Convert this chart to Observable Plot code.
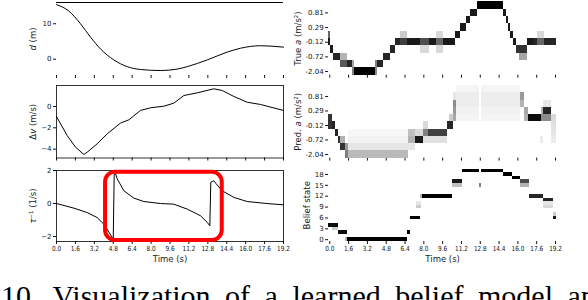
<!DOCTYPE html>
<html><head><meta charset="utf-8">
<script src="https://cdn.jsdelivr.net/npm/d3@7"></script>
<script src="https://cdn.jsdelivr.net/npm/@observablehq/plot@0.6"></script>
<style>
html,body{margin:0;padding:0;background:#fff;}
#root{position:relative;width:588px;height:300px;overflow:hidden;background:#fff;}
.cap{position:absolute;left:1px;top:279px;font-family:"Liberation Serif",serif;font-size:30px;word-spacing:7px;white-space:nowrap;color:#000;}
</style></head><body><div id="root"></div>
<script>
// ---------- data ----------
const timeTickLabels = ["0.0","1.6","3.2","4.8","6.4","8.0","9.6","11.2","12.8","14.4","16.0","17.6","19.2"];

const dTime = [0, 1.04, 2.03, 2.88, 3.72, 4.85, 5.98, 7.1, 8.8, 10.2, 11.06, 12.75, 14.44, 15.57, 17.26, 19.2];
const dVal  = [15.4, 13.6, 10.0, 6.2, 2.9, -0.2, -2.1, -2.9, -3.2, -2.8, -2.1, -0.2, 2.0, 3.1, 3.8, 3.4];

const dvTime = [0, 0.9, 1.6, 2.31, 2.6, 3.44, 4.29, 5.41, 6.12, 7.1, 7.95, 9.08, 9.92, 10.77, 11.9, 13.3, 14.02, 15.0, 16.13, 17.26, 19.2];
const dvVal  = [-0.94, -2.72, -3.8, -4.5, -4.28, -3.5, -2.56, -1.56, -1.25, -0.37, -0.12, 0.03, 0.31, 1.03, 1.28, 1.66, 1.5, 0.94, 0.4, 0.19, -0.37];

const tauTime = [0, 1.47, 2.6, 3.44, 4.0, 4.23, 4.71, 4.8, 4.88, 5.0, 5.13, 5.7, 6.54, 7.39, 8.8, 9.92, 11.06, 12.18, 12.75, 12.97, 13.05, 13.3, 13.5, 14.02, 15.0, 16.13, 17.8, 19.2];
const tauVal  = [0, -0.28, -0.55, -0.85, -1.25, -1.5, -2.05, -2.1, 1.75, 1.8, 1.5, 0.77, 0.33, 0.12, 0, -0.04, -0.34, -0.74, -1.14, -1.35, 1.29, 1.38, 1.2, 0.77, 0.37, 0.12, 0, -0.08];

const highlightBox = [[4.15, 14.02, -2.24, 1.9]]; // t0, t1, v0, v1

const aTickBins = [0, 2, 4, 6, 8];
const aTickLabels = ["-2.04", "-0.72", "-0.12", "0.29", "0.81"];
const beliefTicks = [0, 3, 6, 9, 12, 15, 18];

// cells: [tStart, tEnd, bin, probability]
const trueACells = [
 [-0.1,0.1,4,0.9],[-0.1,0.1,5,0.6],[0.1,0.3,3,0.9],[0.3,0.9,2,0.85],
 [0.9,1.5,1,0.65],[0.9,1.5,2,0.3],[1.5,1.9,1,0.85],[1.9,2.1,0,0.5],[1.9,2.1,1,0.35],
 [2.1,3.9,0,1],[3.9,4.1,0,0.45],[3.9,4.1,1,0.5],[4.1,4.6,1,0.85],[4.6,5.2,2,0.85],
 [5.2,5.6,3,0.85],[5.6,6.0,4,0.85],[6.0,6.6,4,0.75],[6.0,6.6,5,0.2],[6.6,7.7,4,0.9],
 [7.7,8.5,4,0.7],[7.7,8.5,3,0.15],[8.5,9.1,4,0.9],[9.1,9.7,4,0.6],[9.1,9.7,5,0.15],[9.1,9.7,3,0.15],
 [9.7,10.7,4,0.9],[10.7,11.1,5,0.9],[11.1,11.6,6,0.9],[11.6,12.0,7,0.9],[12.0,12.6,8,0.9],
 [12.6,14.8,9,1],[14.8,15.0,8,0.9],[15.0,15.2,7,0.9],[15.2,15.4,6,0.9],[15.4,15.6,5,0.9],
 [15.6,15.9,4,0.9],[15.9,16.8,3,0.8],[16.1,16.8,2,0.35],[16.8,17.3,4,0.9],[17.3,17.7,4,0.85],
 [17.7,18.3,4,0.6],[17.7,18.3,5,0.15],[18.3,19.3,4,0.85]
];
const predACells = [
 [-0.1,0.2,5,0.8],[-0.1,0.2,4,0.8],[0.2,0.45,4,0.85],[0.45,0.7,3,0.85],[0.7,0.95,2,0.8],
 [0.95,1.35,1,0.8],[0.95,1.35,2,0.3],[1.35,1.6,0,0.5],[1.35,1.6,1,0.4],
 [1.6,6.7,0,0.27],[1.6,6.7,1,0.1],[1.6,6.7,2,0.05],[1.6,6.7,3,0.03],
 [6.7,7.3,3,0.25],[6.7,7.3,2,0.3],[6.7,7.3,1,0.1],[7.3,8.0,2,0.9],[7.3,8.0,3,0.15],
 [8.0,8.4,3,0.5],[8.4,10.0,3,0.75],[8.0,10.0,2,0.12],[8.0,8.4,4,0.15],
 [10.0,10.5,4,0.85],[10.2,10.5,5,0.2],
 [10.5,10.8,5,0.35],[10.5,10.8,6,0.4],[10.5,10.8,7,0.45],[10.5,10.8,8,0.1],
 [10.8,12.7,9,0.04],[10.8,12.7,8,0.07],[10.8,12.7,7,0.07],[10.8,12.7,6,0.05],[10.8,12.7,5,0.04],
 [12.9,16.2,9,0.04],[12.9,16.2,8,0.07],[12.9,16.2,7,0.07],[12.9,16.2,6,0.05],[12.9,16.2,5,0.04],
 [16.2,16.6,8,0.4],[16.2,16.6,7,0.3],[16.6,16.9,6,0.35],[16.6,16.9,5,0.3],
 [16.9,18.0,5,0.95],[18.0,18.2,5,0.45],[18.0,18.2,6,0.3],[17.9,18.2,2,0.08],
 [18.2,18.9,6,0.85],[18.2,18.9,5,0.45],[18.2,18.9,7,0.1],
 [18.9,19.3,5,0.15],[18.9,19.3,4,0.12],[18.9,19.3,3,0.1],[18.9,19.3,2,0.08]
];
const beliefCells = [
 [-0.1,0.7,4,0.95],[0.2,0.7,3,0.2],[0.7,1.5,2,0.95],[1.3,1.5,0,0.3],[1.5,6.6,0,1],
 [6.6,6.9,2,1],[6.9,7.7,6,1],[7.4,7.8,10,0.1],[7.4,7.8,9,0.2],[7.7,7.9,12,0.3],
 [7.9,10.4,12,1],[10.4,11.3,16,0.9],[10.4,11.3,15,0.25],[11.3,12.7,19,1],[12.7,12.9,15,0.5],
 [12.9,14.8,19,1],[14.8,15.5,18,1],[15.5,16.2,17,1],[16.2,17.0,16,0.7],[16.2,17.0,15,0.3],
 [17.0,18.2,12,0.85],[18.2,19.0,11,0.85],[18.2,19.0,10,0.1],[18.2,19.0,9,0.15],
 [19.0,19.3,6,0.9],[19.0,19.3,7,0.2]
];

// ---------- helpers ----------
const root = document.getElementById("root");
const timeTicks = timeTickLabels.map(Number);
const fmtMinus = d => (d < 0 ? "\u2212" + Math.abs(d) : String(d));
const baseStyle = {fontFamily: "DejaVu Sans", fontSize: "7px", background: "none", overflow: "visible", color: "#111"};

function mount(svg, left, top) {
  const d = document.createElement("div");
  d.style.cssText = `position:absolute;left:${left}px;top:${top}px;`;
  d.appendChild(svg);
  root.appendChild(d);
}
function richLabel(svg, full, parts) {
  svg.querySelectorAll("text").forEach(t => {
    if (t.textContent === full) {
      t.textContent = "";
      for (const [s, it] of parts) {
        const ts = document.createElementNS("http://www.w3.org/2000/svg", "tspan");
        ts.textContent = s;
        if (it) ts.setAttribute("font-style", "italic");
        t.appendChild(ts);
      }
    }
  });
}
function squeezeX(svg, k) {
  svg.querySelectorAll('[aria-label="x-axis tick label"] text').forEach(t => {
    const tr = t.getAttribute("transform") || "";
    t.setAttribute("transform", tr + ` scale(${k},1)`);
  });
}
const yLabelMark = (label, dx) => Plot.text([label], {frameAnchor: "left", dx, rotate: -90, textAnchor: "middle", lineAnchor: "middle", fontSize: 8.5, fill: "#222"});
const xLabelMark = () => Plot.text(["Time (s)"], {frameAnchor: "bottom", dy: 18, textAnchor: "middle", lineAnchor: "middle", fontSize: 8.5, fill: "#222"});

// ---------- left column ----------
function linePanel({top, height, mt, mb, yDomain, yTicks, xLabels, label, parts, time, vals, curve, extra = [], frame = true}) {
  const svg = Plot.plot({
    width: 290, height, marginLeft: 56, marginRight: 7, marginTop: mt, marginBottom: mb,
    style: baseStyle,
    x: {domain: [0, 19.2], ticks: timeTicks, tickSize: 3, tickPadding: 2, label: null,
        tickFormat: xLabels ? (d => timeTickLabels[timeTicks.indexOf(d)] ?? "") : (() => "")},
    y: {domain: yDomain, ticks: yTicks, tickSize: 3, tickPadding: 2, label: null, tickFormat: fmtMinus},
    marks: [
      frame ? Plot.frame({stroke: "#000", strokeWidth: 0.8}) : Plot.ruleY([yDomain[1]], {stroke: "#000", strokeWidth: 1}),
      Plot.line(vals, {x: time, y: vals, stroke: "#000", strokeWidth: 1, curve}),
      ...extra,
      yLabelMark(label, -23),
      ...(xLabels ? [xLabelMark()] : [])
    ]
  });
  richLabel(svg, label, parts);
  squeezeX(svg, 0.82);
  mount(svg, 0, top);
}

linePanel({top: 0, height: 82, mt: 2, mb: 7, yDomain: [-4.6, 16], yTicks: [0, 10], xLabels: false,
  label: "d (m)", parts: [["d", true], [" (m)", false]], time: dTime, vals: dVal, curve: "monotone-x", frame: false});

linePanel({top: 80, height: 82, mt: 5, mb: 4.5, yDomain: [-4.83, 1.97], yTicks: [-4, -2, 0], xLabels: false,
  label: "\u0394v (m/s)", parts: [["\u0394", false], ["v", true], [" (m/s)", false]], time: dvTime, vals: dvVal, curve: "linear"});

linePanel({top: 160, height: 110, mt: 10, mb: 29, yDomain: [-2.3, 2.0], yTicks: [-2, 0, 2], xLabels: true,
  label: "\u03c4\u207b\u00b9 (1/s)", parts: [["\u03c4", true], ["\u207b\u00b9 (1/s)", false]], time: tauTime, vals: tauVal, curve: "linear",
  extra: [Plot.rect(highlightBox, {x1: d => d[0], x2: d => d[1], y1: d => d[2], y2: d => d[3], fill: "none", stroke: "#f00", strokeWidth: 4, rx: 10})]});

// ---------- right column ----------
function heatPanel({top, height, mt, mb, cells, nBins, ticks, tickFormat, xLabels, label, parts, dx}) {
  const svg = Plot.plot({
    width: 298, height, marginLeft: 38.1, marginRight: 31.8, marginTop: mt, marginBottom: mb,
    style: baseStyle,
    x: {domain: [-0.1, 19.3], ticks: timeTicks, tickSize: 3, tickPadding: 2, label: null,
        tickFormat: xLabels ? (d => timeTickLabels[timeTicks.indexOf(d)] ?? "") : (() => "")},
    y: {domain: [-0.5, nBins - 0.5], ticks, tickFormat, tickSize: 3, tickPadding: 2, label: null},
    color: {type: "linear", domain: [0, 1], range: ["#ffffff", "#000000"]},
    marks: [
      Plot.rect(cells, {x1: d => d[0], x2: d => d[1], y1: d => d[2] - 0.5, y2: d => d[2] + 0.5, fill: d => d[3], shapeRendering: "crispEdges"}),
      yLabelMark(label, dx),
      ...(xLabels ? [xLabelMark()] : [])
    ]
  });
  richLabel(svg, label, parts);
  squeezeX(svg, 0.82);
  mount(svg, 290, top);
}

const aFmt = d => aTickLabels[aTickBins.indexOf(d)] ?? "";
heatPanel({top: 0, height: 80, mt: 1.4, mb: 5.3, cells: trueACells, nBins: 10, ticks: aTickBins, tickFormat: aFmt,
  xLabels: false, label: "True a (m/s\u00b2)", parts: [["True ", false], ["a", true], [" (m/s\u00b2)", false]], dx: -30});
heatPanel({top: 80, height: 82, mt: 5.1, mb: 4.4, cells: predACells, nBins: 10, ticks: aTickBins, tickFormat: aFmt,
  xLabels: false, label: "Pred. a (m/s\u00b2)", parts: [["Pred. ", false], ["a", true], [" (m/s\u00b2)", false]], dx: -30});
heatPanel({top: 160, height: 110, mt: 8.5, mb: 29, cells: beliefCells, nBins: 20, ticks: beliefTicks, tickFormat: d => String(d),
  xLabels: true, label: "Belief state", parts: [["Belief state", false]], dx: -21.5});

// ---------- caption ----------
const cap = document.createElement("div");
cap.className = "cap";
cap.textContent = "10. Visualization of a learned belief model and predicted acceleration.";
root.appendChild(cap);
</script></body></html>
